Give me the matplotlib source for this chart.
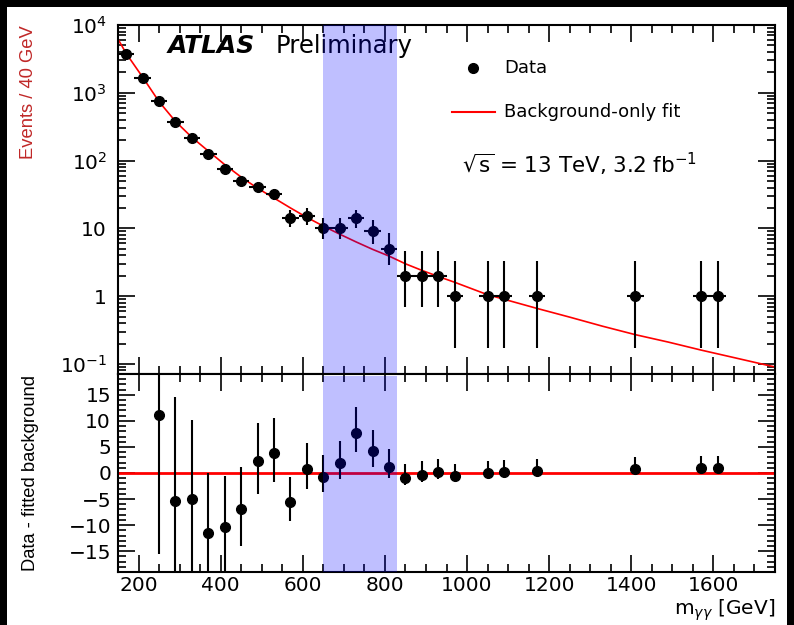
import numpy as np
import matplotlib.pyplot as plt
from matplotlib.patches import Rectangle
from matplotlib.ticker import MultipleLocator, FixedLocator, FuncFormatter, LogLocator, NullFormatter

# Diphoton invariant mass spectrum, 40 GeV bins (bin centres in GeV)
mass = [170, 210, 250, 290, 330, 370, 410, 450, 490, 530, 570, 610, 650, 690,
        730, 770, 810, 850, 890, 930, 970, 1050, 1090, 1170, 1410, 1570, 1610]
events = [3770, 1660, 748, 370, 214, 126, 76, 50, 41, 32, 14, 15, 10, 10,
          14, 9, 5, 2, 2, 2, 1, 1, 1, 1, 1, 1, 1]
err_lo = [61, 41, 26.7, 19.9, 15.1, 11.6, 9.7, 7.1, 6.3, 5.5, 3.7, 3.8, 3.0, 3.1,
          3.75, 3.05, 2.15, 1.3, 1.3, 1.3, 0.83, 0.83, 0.83, 0.83, 0.83, 0.83, 0.83]
err_hi = [61, 41, 26.7, 19.9, 15.1, 11.6, 9.7, 8.0, 7.35, 6.65, 4.8, 5.0, 4.2, 4.3,
          4.85, 4.1, 3.4, 2.65, 2.65, 2.65, 2.3, 2.3, 2.3, 2.3, 2.3, 2.3, 2.3]

# Background-only fit
fit_mass = [150, 170, 210, 250, 290, 330, 370, 410, 450, 490, 530, 570, 610, 650,
            690, 730, 770, 810, 850, 890, 930, 970, 1050, 1090, 1170, 1250, 1330,
            1410, 1490, 1570, 1650, 1750]
fit_val = [6200, 3800, 1700, 740, 378, 220, 138, 87, 57, 39, 28, 20, 14.5, 10.8,
           8.2, 6.3, 4.9, 3.9, 3.0, 2.4, 1.95, 1.6, 1.05, 0.9, 0.66, 0.49, 0.36,
           0.27, 0.21, 0.16, 0.124, 0.09]

# Data - fitted background (first two bins are off scale)
res_mass = mass[2:]
resid = [11.1, -5.3, -4.9, -11.6, -10.3, -6.9, 2.25, 3.85, -5.5, 0.7, -0.7, 1.9,
         7.75, 4.15, 1.15, -1.0, -0.4, 0.1, -0.65, 0.0, 0.15, 0.45, 0.75, 0.9, 0.9]
res_lo = err_lo[2:]
res_hi = err_hi[2:]

band = (650, 830)
bin_half = 20

W, H = 794, 625
fig = plt.figure(figsize=(W / 100, H / 100), dpi=100)
fig.patch.set_facecolor('black')
fig.add_artist(Rectangle((7 / W, 0), 780 / W, 618 / H, transform=fig.transFigure,
                         facecolor='white', edgecolor='none', zorder=-10))

left, width = 118 / W, 657 / W
ax1 = fig.add_axes([left, 1 - 374 / H, width, 349 / H])
ax2 = fig.add_axes([left, 1 - 572 / H, width, 198 / H], sharex=ax1)

tick_fs = 14.5
label_font = 'Liberation Sans'

# upper panel
ax1.errorbar(mass, events, yerr=[err_lo, err_hi], xerr=bin_half, fmt='o', color='black',
             ms=7, elinewidth=1.5, capsize=0, zorder=3)
ax1.plot(fit_mass, fit_val, color='red', lw=1.2, zorder=2)
ax1.axvspan(*band, color='blue', alpha=0.25, lw=0, zorder=4)
ax1.set_yscale('log')
ax1.set_ylim(0.071, 1.0e4)
ax1.set_xlim(150, 1750)

def log_label(v, pos):
    if abs(v - 1) < 1e-9:
        return '1'
    if abs(v - 10) < 1e-9:
        return '10'
    return r'$10^{%d}$' % round(np.log10(v))

ax1.yaxis.set_major_locator(FixedLocator([0.1, 1, 10, 100, 1000, 10000]))
ax1.yaxis.set_major_formatter(FuncFormatter(log_label))
ax1.yaxis.set_minor_locator(LogLocator(base=10, subs=np.arange(2, 10), numticks=20))
ax1.yaxis.set_minor_formatter(NullFormatter())
ax1.tick_params(labelbottom=False)
ax1.set_ylabel('Events / 40 GeV', family=label_font, fontsize=13.2, color='#c02828',
               loc='top')
ax1.yaxis.set_label_coords(-0.124, 1.0)

ax1.text(0.075, 0.94, 'ATLAS', transform=ax1.transAxes, fontsize=18,
         fontweight='bold', fontstyle='italic', va='center')
ax1.text(0.24, 0.94, 'Preliminary', transform=ax1.transAxes, fontsize=17.5, va='center')

# legend drawn by hand
ax1.plot([0.54], [0.877], 'o', color='black', ms=7, transform=ax1.transAxes)
ax1.text(0.588, 0.877, 'Data', transform=ax1.transAxes, fontsize=13, va='center')
ax1.plot([0.508, 0.574], [0.75, 0.75], color='red', lw=1.5, transform=ax1.transAxes)
ax1.text(0.588, 0.75, 'Background-only fit', transform=ax1.transAxes, fontsize=13,
         va='center')
ax1.text(0.523, 0.6, r'$\sqrt{\mathrm{s}}$ = 13 TeV, 3.2 fb$^{-1}$',
         transform=ax1.transAxes, fontsize=15.5, va='center')

# lower panel
ax2.errorbar(res_mass, resid, yerr=[res_lo, res_hi], fmt='o', color='black', ms=7,
             elinewidth=1.5, capsize=0, zorder=3)
ax2.axhline(0, color='red', lw=2, zorder=2)
ax2.axvspan(*band, ymax=0.99, color='blue', alpha=0.25, lw=0, zorder=4)
ax2.set_ylim(-19, 19)
ax2.yaxis.set_major_locator(FixedLocator([-15, -10, -5, 0, 5, 10, 15]))
ax2.yaxis.set_minor_locator(MultipleLocator(1))
ax2.xaxis.set_major_locator(MultipleLocator(200))
ax2.xaxis.set_minor_locator(MultipleLocator(50))
ax2.set_ylabel('Data - fitted background', family=label_font, fontsize=13.2)
ax2.yaxis.set_label_coords(-0.121, 0.5)
ax2.set_xlabel(r'm$_{\gamma\gamma}$ [GeV]', fontsize=14.5, loc='right', labelpad=2)

for ax in (ax1, ax2):
    ax.tick_params(which='both', direction='in', top=True, right=True,
                   labelsize=tick_fs, width=1.2, color='black')
    ax.tick_params(which='major', length=12)
    ax.tick_params(which='minor', length=6)
    for s in ax.spines.values():
        s.set_linewidth(1.5)
ax1.tick_params(axis='y', pad=8)
ax2.tick_params(axis='y', pad=5)
ax2.tick_params(axis='x', pad=3)

fig.savefig('out.png', dpi=100, facecolor=fig.get_facecolor())
